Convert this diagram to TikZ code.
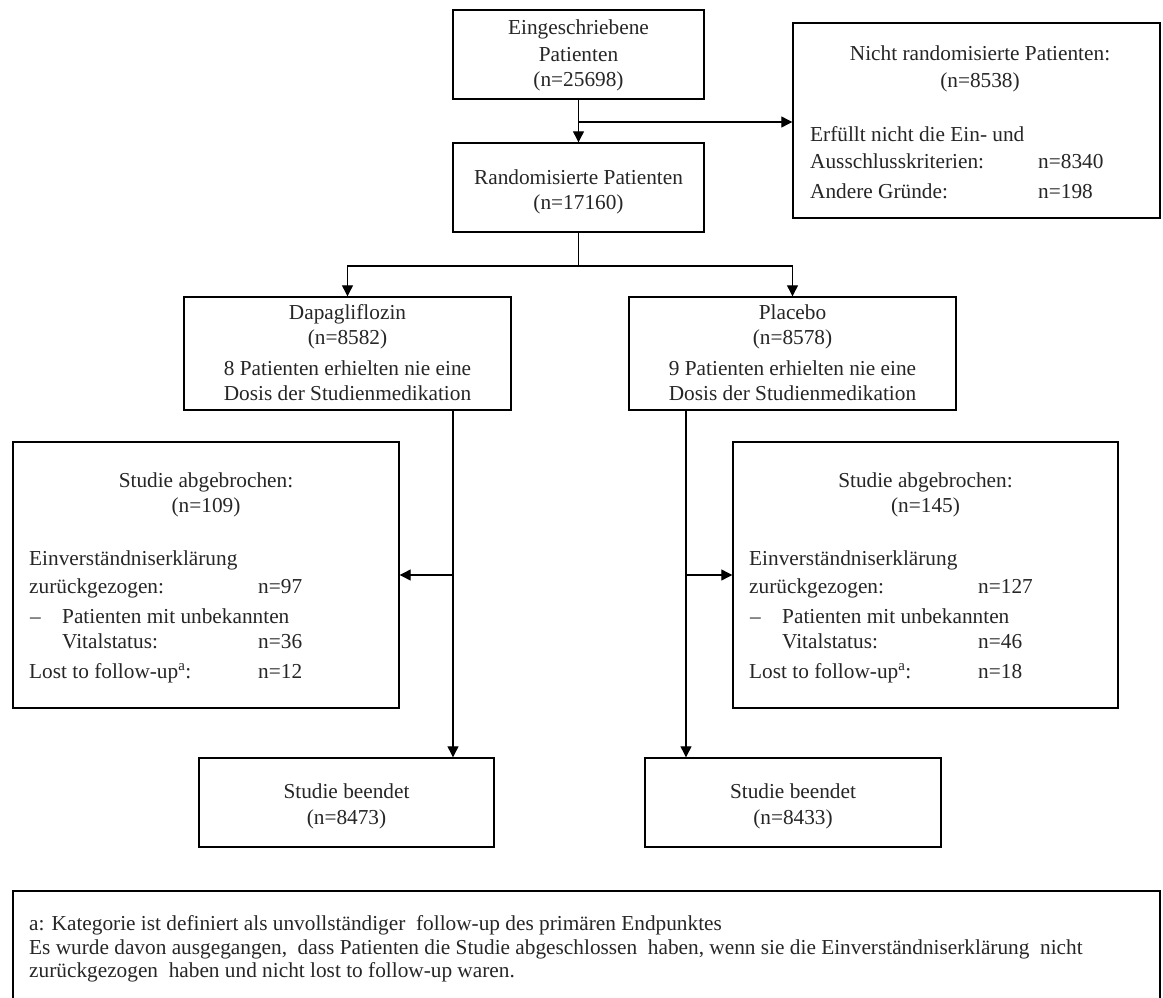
\documentclass[tikz,border=0pt]{standalone}
\usepackage{fontspec}
\setmainfont{Liberation Serif}
\usetikzlibrary{arrows.meta,calc}
\begin{document}
\begin{tikzpicture}[x=1pt,y=-1pt,
  box/.style={draw,line width=1.4pt,inner sep=0pt},
  t/.style={inner sep=0pt,anchor=base,text=black!85,font=\fontsize{21.3}{25}\selectfont},
  tl/.style={t,anchor=base west},
  conn/.style={line width=1.2pt},
  arr/.style={conn,-{Triangle[length=11pt,width=11pt]}}]
\useasboundingbox[fill=white] (0,0) rectangle (1163,998);

% boxes
\node[box,minimum width=251pt,minimum height=89pt] (top) at (578.5,54.5) {};
\node[box,minimum width=251pt,minimum height=89pt] (rand) at (578.5,187.5) {};
\node[box,minimum width=367pt,minimum height=195pt] (nr) at (976.5,120.5) {};
\node[box,minimum width=327pt,minimum height=113pt] (dapa) at (347.5,353.5) {};
\node[box,minimum width=327pt,minimum height=113pt] (plac) at (792.5,353.5) {};
\node[box,minimum width=386pt,minimum height=266pt] (abL) at (206,575) {};
\node[box,minimum width=385pt,minimum height=266pt] (abR) at (925.5,575) {};
\node[box,minimum width=295pt,minimum height=89pt] (endL) at (346.5,802.5) {};
\node[box,minimum width=296pt,minimum height=89pt] (endR) at (793,802.5) {};
\node[box,minimum width=1147pt,minimum height=114pt] (foot) at (586.5,948) {};

% texts: top
\node[t] (top1) at (578.5,35) {Eingeschriebene};
\node[t] (top2) at (578.5,62) {Patienten};
\node[t] (top3) at (578.5,87) {(n=25698)};
\node[t] (rand1) at (578.5,184) {Randomisierte Patienten};
\node[t] (rand2) at (578.5,209) {(n=17160)};
% not randomised
\node[t] (nr1) at (980,61) {Nicht randomisierte Patienten:};
\node[t] (nr2) at (980,88) {(n=8538)};
\node[tl] (nr3) at (810,141) {Erfüllt nicht die Ein- und};
\node[tl] (nr4) at (810,168) {Ausschlusskriterien:};
\node[tl] (nr5) at (1038,168) {n=8340};
\node[tl] (nr6) at (810,198) {Andere Gründe:};
\node[tl] (nr7) at (1038,198) {n=198};
% arms
\node[t] (d1) at (347.5,319) {Dapagliflozin};
\node[t] (d2) at (347.5,344) {(n=8582)};
\node[t] (d3) at (347.5,375) {8 Patienten erhielten nie eine};
\node[t] (d4) at (347.5,400) {Dosis der Studienmedikation};
\node[t] (p1) at (792.5,319) {Placebo};
\node[t] (p2) at (792.5,344) {(n=8578)};
\node[t] (p3) at (792.5,375) {9 Patienten erhielten nie eine};
\node[t] (p4) at (792.5,400) {Dosis der Studienmedikation};
% discontinued left
\node[t] (l1) at (206,487) {Studie abgebrochen:};
\node[t] (l2) at (206,512) {(n=109)};
\node[tl] (l3) at (29,565) {Einverständniserklärung};
\node[tl] (l4) at (29,593) {zurückgezogen:};
\node[tl] (l5) at (258,593) {n=97};
\node[tl] (l6) at (30,623) {–};
\node[tl] (l7) at (62,623) {Patienten mit unbekannten};
\node[tl] (l8) at (62,648) {Vitalstatus:};
\node[tl] (l9) at (258,648) {n=36};
\node[tl] (l10) at (29,678) {Lost to follow-up\textsuperscript{a}:};
\node[tl] (l11) at (258,678) {n=12};
% discontinued right
\node[t] (r1) at (925.5,487) {Studie abgebrochen:};
\node[t] (r2) at (925.5,512) {(n=145)};
\node[tl] (r3) at (749,565) {Einverständniserklärung};
\node[tl] (r4) at (749,593) {zurückgezogen:};
\node[tl] (r5) at (978,593) {n=127};
\node[tl] (r6) at (750,623) {–};
\node[tl] (r7) at (782,623) {Patienten mit unbekannten};
\node[tl] (r8) at (782,648) {Vitalstatus:};
\node[tl] (r9) at (978,648) {n=46};
\node[tl] (r10) at (749,678) {Lost to follow-up\textsuperscript{a}:};
\node[tl] (r11) at (978,678) {n=18};
% completed
\node[t] (e1) at (346.5,798) {Studie beendet};
\node[t] (e2) at (346.5,824) {(n=8473)};
\node[t] (f1) at (793,798) {Studie beendet};
\node[t] (f2) at (793,824) {(n=8433)};
% footnote
\node[tl] (fn1) at (29,930) {a: Kategorie ist definiert als unvollständiger~ follow-up des primären Endpunktes};
\node[tl] (fn2) at (29,954) {Es wurde davon ausgegangen,~ dass Patienten die Studie abgeschlossen~ haben, wenn sie die Einverständniserklärung~ nicht};
\node[tl] (fn3) at (29,977) {zurückgezogen~ haben und nicht lost to follow-up waren.};

% connectors
\coordinate (j) at (578.5,122);
\coordinate (b) at (578.5,266);
\coordinate (dx) at (453,0);
\coordinate (px) at (686,0);
\draw[arr] (top.south) -- (rand.north);
\draw[arr] (j) -- (j -| nr.west);
\draw[conn] (rand.south) -- (b);
\draw[arr] (b) -| (dapa.north);
\draw[arr] (b) -| (plac.north);
\draw[arr] (dapa.south -| dx) -- (endL.north -| dx);
\draw[arr] (abL.east -| dx) -- (abL.east);
\draw[arr] (plac.south -| px) -- (endR.north -| px);
\draw[arr] (abR.west -| px) -- (abR.west);
\end{tikzpicture}
\end{document}
